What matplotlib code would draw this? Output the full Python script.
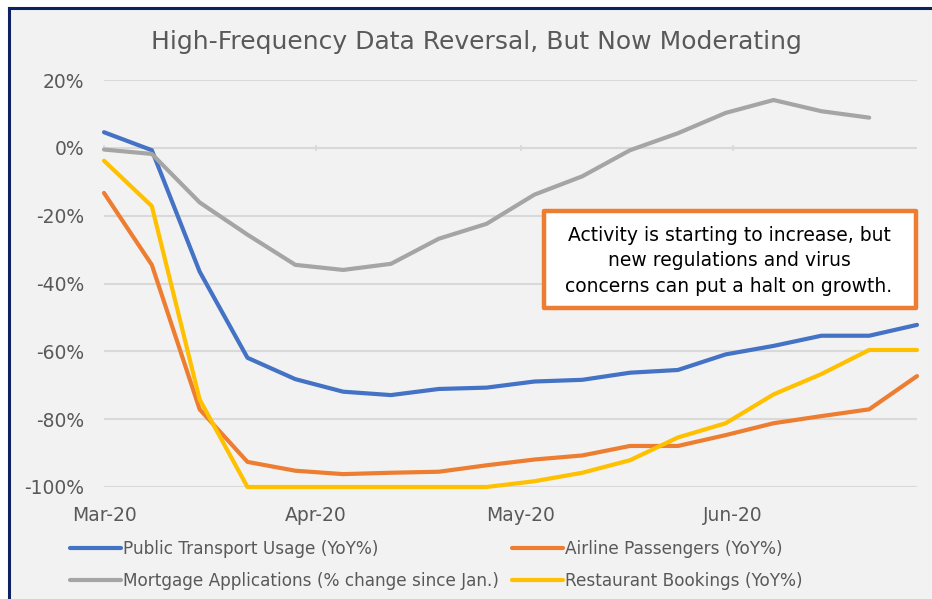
import matplotlib
matplotlib.use("Agg")
import matplotlib.pyplot as plt
from matplotlib.lines import Line2D
from matplotlib.patches import Rectangle
import numpy as np

# ── data ─────────────────────────────────────────────────────────────────────
dates = np.array([
    "2020-03-01", "2020-03-08", "2020-03-15", "2020-03-22", "2020-03-29",
    "2020-04-05", "2020-04-12", "2020-04-19", "2020-04-26", "2020-05-03",
    "2020-05-10", "2020-05-17", "2020-05-24", "2020-05-31", "2020-06-07",
    "2020-06-14", "2020-06-21", "2020-06-28",
], dtype="datetime64[D]")

transport = [4.6, -0.7, -36.5, -61.9, -68.2, -71.9, -72.9, -71.1, -70.7,
             -68.9, -68.4, -66.3, -65.5, -60.9, -58.4, -55.4, -55.4, -52.2]
airline = [-13.3, -34.5, -77.1, -92.6, -95.2, -96.2, -95.8, -95.5, -93.6,
           -91.9, -90.7, -87.9, -87.9, -84.7, -81.2, -79.1, -77.1, -67.3]
mortgage = [-0.5, -1.8, -16.1, -25.6, -34.5, -36.0, -34.2, -26.8, -22.4,
            -13.8, -8.4, -0.7, 4.3, 10.3, 14.1, 10.8, 8.9]
restaurant = [-3.8, -17.2, -74.2, -100, -100, -100, -100, -100, -100,
              -98.3, -95.8, -92.1, -85.4, -81.2, -72.7, -66.7, -59.6, -59.6]

month_ticks = np.array(["2020-03-01", "2020-04-01", "2020-05-01", "2020-06-01"],
                       dtype="datetime64[D]")
month_labels = ["Mar-20", "Apr-20", "May-20", "Jun-20"]
y_ticks = [20, 0, -20, -40, -60, -80, -100]

SERIES = [
    ("Public Transport Usage (YoY%)", transport, "#4472C4"),
    ("Airline Passengers (YoY%)", airline, "#ED7D31"),
    ("Mortgage Applications (% change since Jan.)", mortgage, "#A5A5A5"),
    ("Restaurant Bookings (YoY%)", restaurant, "#FFC000"),
]

TXT = "#595959"
W, H = 932, 599

# ── figure ───────────────────────────────────────────────────────────────────
fig = plt.figure(figsize=(W / 100, H / 100), dpi=100, facecolor="white")

# chart panel + navy frame (top and left edges)
fig.patches.append(Rectangle((9 / W, 0), 1, 1 - 8 / H, transform=fig.transFigure,
                             facecolor="#F2F2F2", edgecolor="none", zorder=-5))
fig.add_artist(Line2D([9 / W, 1], [1 - 8 / H, 1 - 8 / H], transform=fig.transFigure,
                      color="#0E2161", lw=2.2, zorder=-4))
fig.add_artist(Line2D([9 / W, 9 / W], [0, 1 - 8 / H], transform=fig.transFigure,
                      color="#0E2161", lw=2.2, zorder=-4))

ax = fig.add_axes([104 / W, 1 - 487 / H, (917 - 104) / W, (487 - 80) / H])
ax.set_facecolor("none")

for label, vals, col in SERIES:
    ax.plot(dates[:len(vals)], vals, color=col, lw=3.0, solid_capstyle="round",
            solid_joinstyle="round", label=label, zorder=3, clip_on=False)

ax.set_xlim(dates[0], dates[-1])
ax.set_ylim(-100, 20)
ax.set_yticks(y_ticks)
ax.set_yticklabels([f"{v}%" for v in y_ticks])
ax.set_xticks(month_ticks)
ax.set_xticklabels(month_labels)
ax.tick_params(axis="both", length=0, labelsize=13.5, labelcolor=TXT)
ax.tick_params(axis="y", pad=14)
ax.tick_params(axis="x", pad=14)
ax.grid(axis="y", color="#D9D9D9", lw=1.5, zorder=1)
ax.grid(axis="x", visible=False)
for s in ax.spines.values():
    s.set_visible(False)

# small category-axis ticks on the 0% line
sec = ax.secondary_xaxis(100 / 120)
sec.set_xticks(month_ticks)
sec.set_xticklabels([])
sec.tick_params(length=4, width=1.2, color="#D9D9D9", direction="inout")
for s in sec.spines.values():
    s.set_visible(False)

fig.text(476 / W, 1 - 42 / H, "High-Frequency Data Reversal, But Now Moderating",
         ha="center", va="center", fontsize=18, color=TXT)

# annotation box
fig.patches.append(Rectangle((544 / W, 1 - 308 / H), (916 - 544) / W, (308 - 211) / H,
                             transform=fig.transFigure, facecolor="white",
                             edgecolor="#ED7D31", lw=3.2, joinstyle="round", zorder=5))
fig.text(729 / W, 1 - 261 / H,
         "Activity is starting to increase, but\nnew regulations and virus\n"
         "concerns can put a halt on growth.",
         ha="center", va="center", fontsize=13.5, color="black",
         linespacing=1.45, zorder=6)

# legend: two one-column blocks
handles, labels = ax.get_legend_handles_labels()
leg_kw = dict(frameon=False, fontsize=12.2, labelcolor=TXT, handlelength=3.0,
              handletextpad=0.15, labelspacing=0.82, borderaxespad=0, borderpad=0)
fig.legend([handles[0], handles[2]], [labels[0], labels[2]], loc="upper left",
           bbox_to_anchor=(70 / W, 1 - 540 / H), **leg_kw)
fig.legend([handles[1], handles[3]], [labels[1], labels[3]], loc="upper left",
           bbox_to_anchor=(512 / W, 1 - 540 / H), **leg_kw)

fig.savefig("out.png", dpi=100, facecolor="white")
